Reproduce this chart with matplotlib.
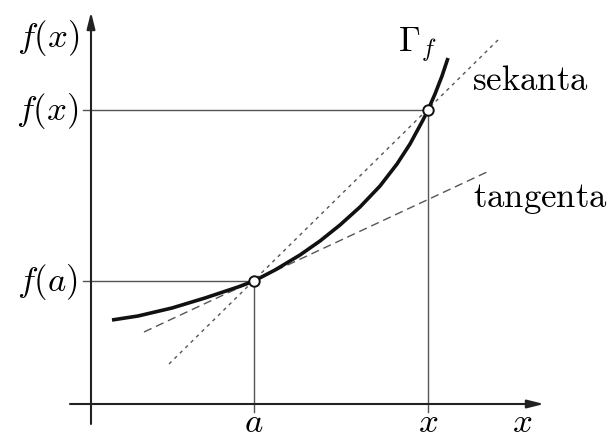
import matplotlib
matplotlib.use("Agg")
import matplotlib.pyplot as plt

plt.rcParams["mathtext.fontset"] = "cm"

# curve Gamma_f, points (origin = axes crossing)
curve_x = [0.21, 0.47, 0.81, 1.14, 1.47, 1.63, 1.84, 2.09, 2.29, 2.49, 2.69, 2.89, 3.06, 3.19, 3.32, 3.37, 3.44, 3.51, 3.57]
curve_y = [0.84, 0.88, 0.96, 1.06, 1.17, 1.23, 1.34, 1.49, 1.63, 1.79, 1.97, 2.18, 2.40, 2.60, 2.84, 2.94, 3.10, 3.28, 3.46]

# marked points: a and x
pt_x = [1.63, 3.37]
pt_y = [1.23, 2.94]

# secant (dotted) and tangent (dashed) end points
sec_x = [0.78, 4.07]
sec_y = [0.40, 3.64]
tan_x = [0.53, 3.96]
tan_y = [0.72, 2.32]

tick_labels_x = [r"$a$", r"$x$"]
tick_labels_y = [r"$f(a)$", r"$f(x)$"]

fig = plt.figure(figsize=(6.13, 4.39), dpi=100)
ax = fig.add_axes([0, 0, 1, 1])
ax.set_xlim(-0.91, 5.22)
ax.set_ylim(-0.34, 4.05)
ax.axis("off")

# axes with arrows
ax.annotate("", xy=(4.53, 0), xytext=(-0.21, 0),
            arrowprops=dict(arrowstyle="-|>,head_length=1.0,head_width=0.25", color="#222222", lw=1.5, shrinkA=0, shrinkB=0))
ax.annotate("", xy=(0, 3.92), xytext=(0, -0.20),
            arrowprops=dict(arrowstyle="-|>,head_length=1.0,head_width=0.25", color="#222222", lw=1.5, shrinkA=0, shrinkB=0))

# guide lines to the axes
for px, py in zip(pt_x, pt_y):
    ax.plot([-0.08, px], [py, py], color="#555555", lw=1.0, zorder=2)
    ax.plot([px, px], [-0.08, py], color="#555555", lw=1.0, zorder=2)

ax.plot(sec_x, sec_y, color="#555555", lw=1.0, dashes=(2.5, 3), zorder=3)
ax.plot(tan_x, tan_y, color="#555555", lw=1.0, dashes=(6, 3.5), zorder=3)

ax.plot(curve_x, curve_y, color="#111111", lw=2.6, solid_capstyle="butt", solid_joinstyle="round", zorder=4)
ax.plot(pt_x, pt_y, "o", ms=7.5, mfc="white", mec="#111111", mew=1.4, zorder=5)

fs = 25
for px, lab in zip(pt_x, tick_labels_x):
    ax.text(px, -0.27, lab, fontsize=fs, ha="center", va="baseline")
for py, lab in zip(pt_y, tick_labels_y):
    ax.text(-0.13, py, lab, fontsize=fs, ha="right", va="center")

ax.text(-0.43, 3.67, r"$f(x)$", fontsize=fs, ha="center", va="center")
ax.text(4.31, -0.27, r"$x$", fontsize=fs, ha="center", va="baseline")
ax.text(3.07, 3.53, r"$\Gamma_f$", fontsize=fs, ha="left", va="baseline")
ax.text(3.81, 3.15, r"$\mathrm{sekanta}$", fontsize=fs, ha="left", va="baseline")
ax.text(3.82, 1.98, r"$\mathrm{tangenta}$", fontsize=fs, ha="left", va="baseline")

fig.savefig("out.png", dpi=100)
